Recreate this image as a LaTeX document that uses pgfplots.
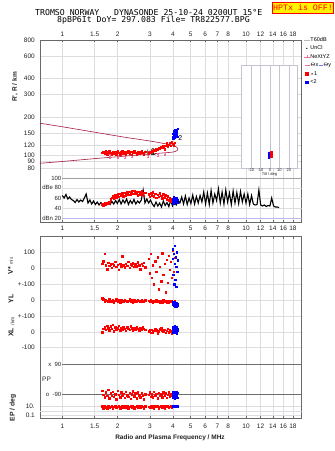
\documentclass[border=0pt]{standalone}
\usepackage{fontspec}
\setmainfont{Liberation Sans}
\newfontfamily\titlefont{DejaVu Sans Mono}
\newfontfamily\hptfont{Liberation Mono}
\usepackage{pgfplots}
\pgfplotsset{compat=1.18}
\usepackage{pgfplotstable}

\definecolor{framec}{RGB}{105,105,105}
\definecolor{gridc}{RGB}{220,220,225}
\definecolor{maroonc}{RGB}{165,25,60}
\definecolor{pinkc}{RGB}{235,110,160}
\definecolor{dbn}{RGB}{185,185,240}
\definecolor{ppline}{RGB}{110,110,110}
\definecolor{ticklab}{RGB}{35,35,35}
\definecolor{insetc}{RGB}{195,195,212}

\pgfplotstableread{
f h db vs yl xl pp ep
1.65 105 48 30 10 0 -70 12
1.67 107 46 45 5 20 -95 5
1.70 104 50 90 -8 30 -110 18
1.72 108 47 20 2 15 -80 8
1.75 103 51 -5 -3 40 -100 4
1.78 106 49 35 -12 25 -65 15
1.80 109 52 15 4 10 -115 6
1.83 105 58 25 -6 35 -85 10
1.86 102 61 5 -10 20 -100 19
1.88 106 64 30 0 45 -75 4
1.91 104 60 18 -15 5 -105 9
1.94 107 66 40 -4 30 -90 14
1.97 103 62 10 6 15 -120 7
2.00 108 68 22 -9 25 -70 11
2.03 105 63 -8 -2 38 -95 17
2.06 102 69 28 -14 12 -110 5
2.09 106 65 12 3 28 -80 9
2.12 109 70 75 -7 18 -100 13
2.15 104 64 20 -11 33 -88 6
2.18 107 71 8 1 22 -112 16
2.21 103 66 30 -5 8 -75 8
2.25 106 72 15 -12 30 -98 12
2.28 108 67 42 -3 20 -105 4
2.32 104 73 5 5 15 -82 10
2.35 107 68 25 -8 35 -118 18
2.39 102 74 18 -2 24 -92 7
2.42 106 69 32 -13 10 -72 14
2.46 108 75 10 0 28 -102 5
2.50 105 70 26 -6 18 -86 11
2.54 103 72 12 -10 32 -114 16
2.58 107 66 38 2 22 -78 8
2.62 104 73 20 -4 12 -96 12
2.66 106 68 -5 -9 26 -108 6
2.70 109 74 28 3 16 -84 15
2.74 105 70 15 -7 30 -100 9
2.78 103 65 35 -12 20 -120 4
2.82 107 71 8 -1 14 -90 13
2.95 104 68 60 -5 5 -95 10
2.99 106 63 -30 -10 10 -80 6
3.03 105 70 90 2 -5 -105 15
3.07 108 66 -60 -8 15 -90 8
3.11 107 72 20 -15 0 -110 12
3.15 110 64 -100 -3 8 -75 5
3.20 109 69 45 -12 20 -98 17
3.25 112 61 -20 0 12 -88 9
3.30 111 67 70 -9 -8 -115 13
3.35 114 63 -130 -4 5 -82 4
3.40 113 70 10 -14 18 -100 11
3.45 116 65 -80 -6 25 -92 16
3.50 115 60 95 -18 10 -108 7
3.55 118 68 -40 -2 2 -78 12
3.60 112 62 30 -11 15 -96 5
3.65 120 66 -150 -7 -5 -86 14
3.70 125 58 55 -13 8 -112 9
3.75 118 64 -90 -5 20 -94 18
3.80 122 56 80 -16 0 -80 6
3.85 126 60 -10 -8 12 -102 11
3.90 120 54 40 -12 4 -90 15
3.95 127 58 -60 -6 -10 -98 8
4.00 124 55 110 -10 6 -108 12
4.05 121 57 -20 -14 10 -95 10
4.10 126 53 65 -9 3 -85 14
}\redtab

\pgfplotstableread{
f h db vs yl xl pp ep
3.98 140 52 120 -20 10 -80 15
4.00 148 58 60 -30 30 -95 18
4.02 136 50 -40 -15 0 -110 14
4.04 155 62 90 -35 20 -75 16
4.06 145 56 -100 -25 -5 -100 20
4.08 160 60 30 -40 35 -85 13
4.10 138 54 140 -10 15 -115 17
4.12 150 59 -70 -32 25 -90 15
4.14 142 57 70 -22 5 -105 19
4.16 158 61 -115 -38 30 -78 14
4.18 146 53 10 -18 10 -98 16
4.20 152 55 100 -28 -6 -88 18
4.22 140 51 -20 -35 22 -112 15
4.24 162 57 50 -26 12 -82 17
}\bluetab

\pgfplotstableread{
f db
1.000 65
1.023 60
1.047 67
1.072 58
1.096 62
1.122 57
1.148 55
1.175 51
1.202 57
1.230 52
1.259 56
1.288 53
1.318 60
1.349 68
1.380 50
1.413 56
1.445 48
1.479 54
1.514 47
1.549 52
1.585 46
1.622 51
1.660 45
1.698 50
1.738 46
1.778 52
1.820 47
1.862 53
1.905 48
1.950 55
1.995 49
2.042 57
2.089 48
2.138 56
2.188 50
2.239 58
2.291 47
2.344 55
2.399 49
2.455 57
2.512 48
2.570 54
2.630 50
2.692 56
2.754 76
2.818 50
2.884 58
2.951 50
3.020 56
3.090 48
3.162 43
3.236 52
3.311 44
3.388 50
3.467 42
3.548 54
3.631 45
3.715 51
3.802 43
3.890 55
3.981 44
4.074 52
4.169 46
4.266 55
4.365 50
4.467 62
4.571 48
4.677 64
4.786 47
4.898 60
5.012 49
5.129 66
5.248 48
5.370 63
5.495 50
5.623 65
5.754 52
5.888 72
6.026 48
6.166 70
6.310 47
6.457 75
6.607 50
6.761 68
6.918 55
7.079 78
7.244 50
7.413 72
7.586 48
7.762 76
7.943 52
8.128 70
8.318 47
8.511 74
8.710 50
8.913 71
9.120 49
9.333 73
9.550 52
9.772 68
10.00 50
10.23 68
10.47 47
10.72 65
10.96 48
11.22 46
11.48 47
11.75 76
12.02 46
12.30 44
12.59 46
12.88 43
13.18 45
13.49 44
13.80 60
14.13 44
14.45 42
14.79 42
15.14 41
}\dbtab

\pgfplotsset{
  rmark/.style={only marks, mark=square*, mark size=0.75pt, color=red, mark options={draw=none, fill=red}},
  bmark/.style={only marks, mark=square*, mark size=0.75pt, color=blue, mark options={draw=none, fill=blue}},
}

\begin{document}
\begin{tikzpicture}[x=1pt,y=1pt]
\useasboundingbox (0pt,0pt) rectangle (335pt,-451pt);

% titles
\node[anchor=west, inner sep=0pt, font=\titlefont\fontsize{8.2}{9}\selectfont] at (35pt,-12.5pt) {TROMSO NORWAY\ \ \ DYNASONDE 25-10-24 0200UT 15°E};
\node[anchor=west, inner sep=0pt, font=\titlefont\fontsize{8.2}{9}\selectfont] at (57pt,-20.5pt) {8pBP6It DoY= 297.083 File= TR822577.BPG};
\node[draw=red, fill=yellow, text=red, line width=0.6pt, font=\hptfont\fontsize{8.3}{9}\selectfont, inner sep=0.8pt, minimum height=11.5pt, anchor=north east] at (334pt,-1.5pt) {HPTx is OFF!};

% ---------- top panel: virtual height ----------
\begin{axis}[scale only axis, xmode=log, xmin=0.756, xmax=20.1, width=261.7pt,
  xtick={1,1.5,2,3,4,5,6,7,8,10,12,14,16,18},
  xticklabels={1,1.5,2,3,4,5,6,7,8,10,12,14,16,18},
  xminorticks=false, yminorticks=false,
  xmajorgrids, ymajorgrids, major grid style={gridc, line width=0.5pt},
  axis line style={framec, line width=0.6pt},
  tick style={framec, line width=0.5pt}, major tick length=2.5pt,
  tick align=inside,
  tick label style={font=\fontsize{6.5}{7}\selectfont, text=ticklab},
  at={(40pt,-40pt)}, anchor=north west, height=136pt,
  ymode=log, ymin=69.3, ymax=800,
  axis x line*=top, axis y line*=box,
  ytick={80,90,100,120,150,200,300,400,600,800},
  yticklabels={80,90,100,120,150,200,300,400,600,800},
  ytick style={draw=none},
  yticklabel style={inner sep=1pt, xshift=-4pt},
  xticklabel style={inner sep=1pt, yshift=2.5pt},
  legend style={draw=none, fill=none, at={(1.006,1.02)}, anchor=north west,
    font=\fontsize{5.5}{6}\selectfont, inner sep=0pt, row sep=3.4pt,
    nodes={inner sep=0.3pt, text height=3.8pt, text depth=0.6pt}},
  legend cell align=left,
]
\addlegendimage{legend image code/.code={\draw[gray!55, line width=0.7pt] (0pt,0pt) -- (6pt,0pt);}}
\addlegendentry{T60dB}
\addlegendimage{legend image code/.code={\fill[black] (3pt,0pt) circle (0.4pt);}}
\addlegendentry{UnCl}
\addlegendimage{legend image code/.code={\draw[pinkc, line width=0.5pt] (0pt,0pt) -- (6pt,0pt); \draw[pinkc, line width=0.5pt] (3pt,-1.5pt) -- (3pt,1.5pt);}}
\addlegendentry{NeXtYZ}
\addlegendimage{legend image code/.code={\draw[pinkc, line width=0.6pt] (1pt,0pt) -- (6pt,0pt);}}
\addlegendentry{$\Theta$x\,\textcolor{blue!55}{\rule[0.55ex]{4pt}{0.5pt}}$\Theta$y}
\addlegendimage{legend image code/.code={\fill[red] (1.5pt,-1.2pt) rectangle (3.9pt,1.2pt);}}
\addlegendentry{$\ast$1}
\addlegendimage{legend image code/.code={\fill[blue] (1.5pt,-1.2pt) rectangle (3.9pt,1.2pt);}}
\addlegendentry{<2}

\addplot[maroonc, line width=0.6pt, smooth, forget plot] coordinates {
 (0.756,179) (1.0,168) (1.6,150) (2.2,139) (3.0,130) (3.5,125) (3.86,122)
 (4.1,118.5) (4.22,115.5) (4.26,112.5) (4.22,109.5) (4.1,107.5) (3.86,106)
 (3.0,103) (2.0,98) (1.6,95.5) (1.0,90) (0.756,87.1)};
\addplot[pinkc, only marks, mark=-, mark size=1pt, forget plot,
  error bars/.cd, y dir=both, y explicit, error bar style={pinkc, line width=0.5pt}]
  coordinates {(1.818,99) +- (0,3) (2.01,98) +- (0,3) (2.194,99) +- (0,3)
  (2.396,100) +- (0,3) (2.928,100) +- (0,3) (3.32,102) +- (0,3) (3.63,103) +- (0,3)};
\addplot[rmark, forget plot] table[x=f, y=h] {\redtab};
\addplot[bmark, forget plot] table[x=f, y=h] {\bluetab};
\node[anchor=west, inner sep=0pt, font=\fontsize{7}{8}\selectfont] at (axis cs:2.79,106) {\large$\ast$\normalsize 1};
\node[anchor=west, inner sep=0pt, font=\fontsize{7}{8}\selectfont] at (axis cs:4.27,138) {2};
\end{axis}

% ---------- tilt inset ----------
\begin{axis}[scale only axis, at={(241.7pt,-65pt)}, anchor=north west,
  width=55.6pt, height=103pt, xmin=-30, xmax=29,
  ymode=log, ymin=80, ymax=510, ytick=\empty, yminorticks=false,
  xtick={-20,-10,0,10,20}, xticklabels={-20,-10,0,10,20},
  xmajorgrids, major grid style={insetc, line width=0.5pt},
  axis line style={insetc, line width=0.6pt}, tick style={draw=none},
  axis background/.style={fill=white},
  xticklabel style={font=\fontsize{4}{4.5}\selectfont, text=ticklab, inner sep=0.4pt},
  xlabel={Tilt / deg}, xlabel style={font=\fontsize{4}{4.5}\selectfont, text=ticklab, inner sep=0pt, yshift=-0.3pt},
]
\addplot[bmark, mark size=0.8pt] coordinates {(-1.5,97) (-1.5,99) (-1.5,101) (-1.5,103) (-1.5,105)};
\addplot[rmark, mark size=0.8pt] coordinates {(1,98) (1,100) (1,102) (1.5,104) (1,106)};
\end{axis}

% ---------- dB panel ----------
\begin{axis}[scale only axis, xmode=log, xmin=0.756, xmax=20.1, width=261.7pt,
  xtick={1,1.5,2,3,4,5,6,7,8,10,12,14,16,18},
  xticklabels={1,1.5,2,3,4,5,6,7,8,10,12,14,16,18},
  xminorticks=false,
  xmajorgrids, major grid style={gridc, line width=0.5pt},
  axis line style={framec, line width=0.6pt},
  tick style={framec, line width=0.5pt}, major tick length=2.5pt,
  tick align=inside,
  tick label style={font=\fontsize{6.5}{7}\selectfont, text=ticklab},
  at={(40pt,-176pt)}, anchor=north west, height=46pt,
  ymin=12, ymax=104, axis x line*=bottom, axis y line*=box, ytick=\empty,
  xticklabel style={inner sep=1pt, yshift=-2.5pt},
]
\draw[gray!75, line width=0.6pt] (axis cs:1,100) -- (axis cs:20.1,100);
\draw[gridc, line width=0.6pt] (axis cs:1,80) -- (axis cs:20.1,80);
\draw[gridc, line width=0.6pt] (axis cs:1,60) -- (axis cs:20.1,60);
\draw[gridc, line width=0.6pt] (axis cs:1,40) -- (axis cs:20.1,40);
\draw[dbn, line width=0.6pt] (axis cs:1,20) -- (axis cs:20.1,20);
\addplot[black, line width=1.1pt] table[x=f, y=db] {\dbtab};
\addplot[rmark] table[x=f, y=db] {\redtab};
\addplot[bmark] table[x=f, y=db] {\bluetab};
\end{axis}
\begin{scope}[every node/.style={anchor=east, inner sep=0.5pt, font=\fontsize{6}{7}\selectfont, text=ticklab}]
\node at (62pt,-178pt) {100};
\node at (62pt,-187.5pt) {dBe 80};
\node at (62pt,-198pt) {60};
\node at (62pt,-208pt) {40};
\node at (62pt,-218pt) {dBn 20};
\end{scope}

% ---------- lower panel ----------
\begin{axis}[scale only axis, xmode=log, xmin=0.756, xmax=20.1, width=261.7pt,
  xtick={1,1.5,2,3,4,5,6,7,8,10,12,14,16,18},
  xticklabels={1,1.5,2,3,4,5,6,7,8,10,12,14,16,18},
  xminorticks=false,
  xmajorgrids, ymajorgrids, major grid style={gridc, line width=0.5pt},
  axis line style={framec, line width=0.6pt},
  tick style={framec, line width=0.5pt}, major tick length=2.5pt,
  tick align=inside,
  tick label style={font=\fontsize{6.5}{7}\selectfont, text=ticklab},
  at={(40pt,-236.7pt)}, anchor=north west, height=181.6pt,
  ymin=0, ymax=181.6,
  ytick={166,150,134,118.3,102.3,86.3,71,11.6,3.3},
  yticklabels={100,0,+-100,0,+-100,0,-100,10.,0.1},
  ytick style={draw=none},
  yticklabel style={inner sep=1pt, xshift=-4pt},
  xticklabel style={inner sep=1pt, yshift=-4.4pt},
  xticklabel pos=lower,
]
\draw[gridc, line width=0.5pt] (axis cs:0.756,7.45) -- (axis cs:20.1,7.45);
\draw[ppline, line width=0.6pt] (axis cs:1,54) -- (axis cs:20.1,54);
\draw[ppline, line width=0.6pt] (axis cs:1,24.3) -- (axis cs:20.1,24.3);
% V*
\addplot[rmark] table[x=f, y expr=150+0.16*\thisrow{vs}] {\redtab};
\addplot[bmark] table[x=f, y expr=150+0.16*\thisrow{vs}] {\bluetab};
% YL
\addplot[rmark] table[x=f, y expr=118.3+0.16*\thisrow{yl}] {\redtab};
\addplot[bmark] table[x=f, y expr=118.3+0.16*\thisrow{yl}] {\bluetab};
% XL
\addplot[rmark] table[x=f, y expr=86.3+0.16*\thisrow{xl}] {\redtab};
\addplot[bmark] table[x=f, y expr=86.3+0.16*\thisrow{xl}] {\bluetab};
% PP
\addplot[rmark] table[x=f, y expr=24.3+0.165*(\thisrow{pp}+90)] {\redtab};
\addplot[bmark] table[x=f, y expr=24.3+0.165*(\thisrow{pp}+90)] {\bluetab};
% EP
\addplot[rmark] table[x=f, y expr=11.6+4.15*(log10(\thisrow{ep})-1)] {\redtab};
\addplot[bmark] table[x=f, y expr=11.6+4.15*(log10(\thisrow{ep})-1)] {\bluetab};
\end{axis}
\begin{scope}[every node/.style={inner sep=0.5pt, font=\fontsize{6}{7}\selectfont, text=ticklab}]
\node[anchor=east] at (62pt,-364.5pt) {x\ \ 90};
\node[anchor=east] at (62pt,-394pt) {o\ \ -90};
\node[anchor=center, font=\fontsize{6.5}{7}\selectfont] at (46.5pt,-379.5pt) {PP};
\end{scope}

% axis labels
\begin{scope}[every node/.style={inner sep=0pt, text=ticklab}]
\node[rotate=90, font=\bfseries\fontsize{6.5}{7}\selectfont] at (15pt,-87pt) {R', R / km};
\node[rotate=90, font=\bfseries\fontsize{7}{8}\selectfont] at (10.5pt,-266pt) {V*\ {\mdseries\fontsize{4.5}{5}\selectfont m/s}};
\node[rotate=90, font=\bfseries\fontsize{7}{8}\selectfont] at (11pt,-299pt) {YL};
\node[rotate=90, font=\fontsize{5}{6}\selectfont] at (12.5pt,-321pt) {/km};
\node[rotate=90, font=\bfseries\fontsize{7}{8}\selectfont] at (11pt,-332.5pt) {XL};
\node[rotate=90, font=\bfseries\fontsize{6.8}{8}\selectfont] at (13pt,-408pt) {EP / deg};
\node[font=\bfseries\fontsize{6.5}{7}\selectfont] at (170pt,-437.7pt) {Radio and Plasma Frequency / MHz};
\end{scope}
\end{tikzpicture}
\end{document}
